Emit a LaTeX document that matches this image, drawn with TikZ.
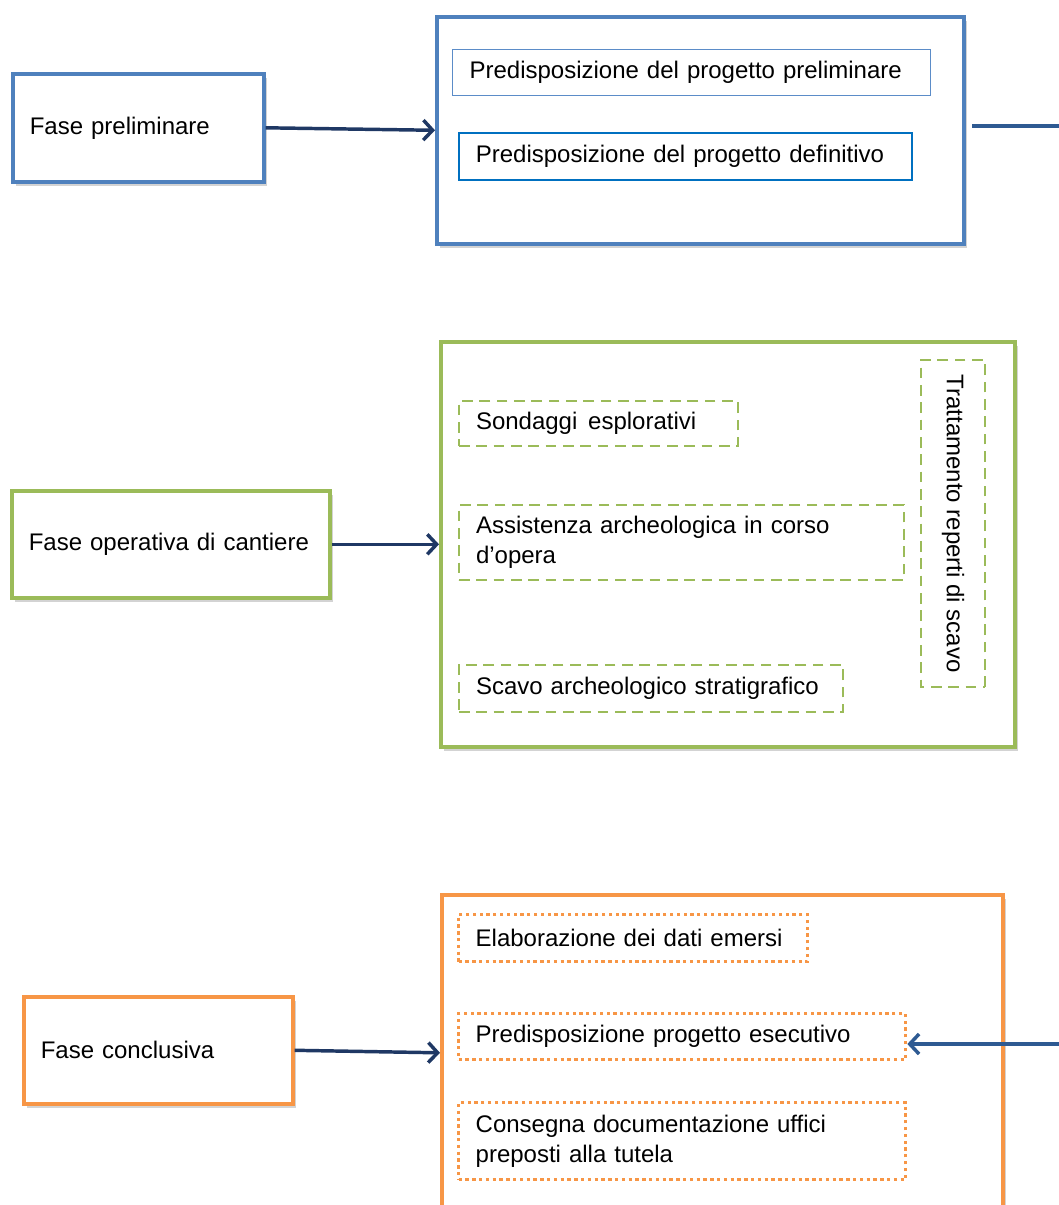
\documentclass[tikz,border=0pt]{standalone}
\usepackage{fontspec}
\setmainfont{Liberation Sans}
\usetikzlibrary{arrows.meta,shadows}
\definecolor{bl}{HTML}{4F81BD}
\definecolor{blin}{HTML}{5B8CC8}
\definecolor{bl2}{HTML}{0070C0}
\definecolor{gr}{HTML}{9BBB59}
\definecolor{orc}{HTML}{F79646}
\definecolor{navy}{HTML}{1F3864}
\definecolor{navytwo}{HTML}{2E5A92}
\begin{document}
\begin{tikzpicture}[x=0.75pt,y=-0.75pt,
  font=\fontsize{18}{22.5}\selectfont,
  every node/.style={inner ysep=2pt, align=left},
  shad/.style={drop shadow={shadow xshift=2.5pt, shadow yshift=-3pt, opacity=0.35}},
  phase/.style={draw, line width=2.7pt, fill=white, anchor=north west, inner xsep=12.75pt, shad},
  group/.style={draw, line width=2.7pt, fill=white, anchor=north west, inner sep=0pt, shad},
  itemb/.style={draw, fill=white, anchor=north west, inner xsep=12.75pt},
  gdash/.style={itemb, draw=gr, line width=1.5pt, dash pattern=on 8pt off 5pt},
  odot/.style={itemb, draw=orc, line width=2.5pt, dash pattern=on 2.5pt off 2.6pt},
  arr/.style={draw=navy, line width=2.6pt, -{Straight Barb[length=7pt,width=15pt]}},
  arrtwo/.style={draw=navytwo, line width=2.6pt, -{Straight Barb[length=7pt,width=15pt]}},
  plainline/.style={draw=navytwo, line width=2.6pt}
]
\useasboundingbox (0,0) rectangle (1058,1205);

% ---------- preliminary phase ----------
\node[phase, draw=bl, text width=162.75pt, minimum height=81pt] (fp) at (11,72) {Fase preliminare};
\node[group, draw=bl, minimum width=395.25pt, minimum height=170.25pt] (B1) at (435,15) {};
\node[itemb, draw=blin, line width=0.9pt, text width=333pt, minimum height=34.5pt] (b1a) at (452,49) {Predisposizione del progetto preliminare};
\node[itemb, draw=bl2, line width=1.3pt, text width=314.25pt, minimum height=35.25pt] (b1b) at (458,132) {Predisposizione del progetto definitivo};
\draw[arr] (fp.east) -- (B1.west);
\coordinate (r1) at (1062,126);
\draw[plainline] ([xshift=5pt]r1 -| B1.east) -- (r1);

% ---------- operative phase ----------
\node[phase, draw=gr, text width=213pt, minimum height=80.25pt] (fo) at (10,489) {Fase operativa di cantiere};
\node[group, draw=gr, minimum width=430.5pt, minimum height=303.75pt] (G) at (439,340) {};
\node[gdash, text width=183.75pt, minimum height=33.75pt] (s1) at (458,400) {Sondaggi\hspace{0.45em}esplorativi};
\node[gdash, text width=308.25pt, minimum height=56.25pt] (s2) at (458,504) {Assistenza archeologica in corso\\d’opera};
\node[gdash, text width=262.5pt, minimum height=35.25pt] (s3) at (458,664) {Scavo archeologico stratigrafico};
\node[gdash, anchor=center, inner sep=0pt, rotate=-90, minimum width=245.25pt, minimum height=48pt, align=center] (s4) at (953,523.5) {Trattamento reperti di scavo};
\draw[arr] (fo.east) -- (G.west);

% ---------- concluding phase ----------
\node[phase, draw=orc, text width=176.25pt, minimum height=80.25pt] (fc) at (22,995) {Fase conclusiva};
\node[group, draw=orc, minimum width=420.75pt, minimum height=237pt] (O) at (440,893) {};
\node[odot, text width=236.25pt, minimum height=35.25pt] (o1) at (457,913) {Elaborazione dei dati emersi};
\node[odot, text width=309.75pt, minimum height=34.5pt] (o2) at (457,1012) {Predisposizione progetto esecutivo};
\node[odot, text width=309.75pt, minimum height=57.75pt] (o3) at (457,1101) {Consegna documentazione uffici\\preposti alla tutela};
\draw[arr] (fc.east) -- (O.west);
\coordinate (r4) at (1062,1044);
\draw[arrtwo] (r4) -- (r4 -| o2.east);
\end{tikzpicture}
\end{document}
